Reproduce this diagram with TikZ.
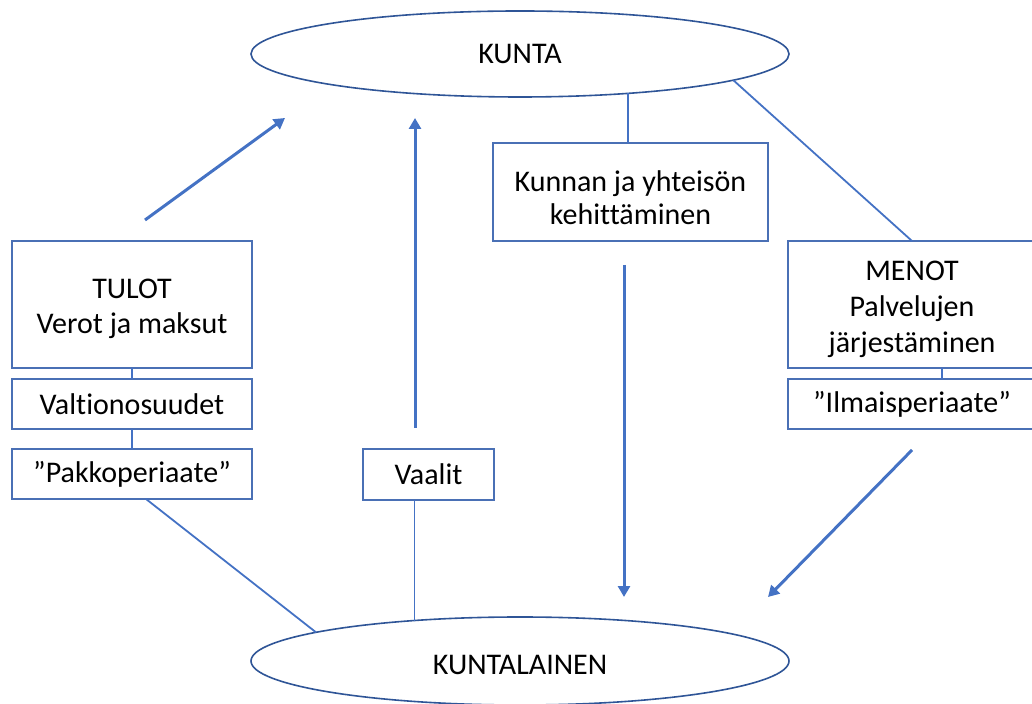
\documentclass[tikz,border=0pt]{standalone}
\usepackage{fontspec}
\setmainfont{Carlito}[Ligatures={NoCommon}]
\usetikzlibrary{shapes.geometric,arrows.meta,calc}
\definecolor{lineblue}{HTML}{4472C4}
\definecolor{boxblue}{HTML}{4A70B5}
\definecolor{ellblue}{HTML}{2F5597}
\newcommand{\lowerby}[2]{\raisebox{-#1}[\height][\depth]{#2}}
\begin{document}
\begin{tikzpicture}[x=0.5pt,y=-0.5pt,
  every node/.style={font=\fontsize{15pt}{17.5pt}\selectfont, text=black, outer sep=0pt},
  box/.style={draw=boxblue, line width=0.75pt, inner sep=0pt, align=center, fill=white},
  oval/.style={ellipse, draw=ellblue, line width=0.8pt, inner sep=0pt, fill=white},
  thin/.style={draw=lineblue, line width=0.9pt},
  bigarrow/.style={draw=lineblue, line width=1.5pt, -{Triangle[length=5.5pt,width=6pt]}}
]
\useasboundingbox (0,0) rectangle (1032,704);
\clip (0,0) rectangle (1032,704);

% ellipses
\node[oval, minimum width=269pt, minimum height=43pt] (kunta) at (520,54) {KUNTA};
\node[oval, minimum width=269pt, minimum height=44pt] (kuntalainen) at (520,661) {\lowerby{2pt}{KUNTALAINEN}};

% boxes
\node[box, minimum width=120pt, minimum height=63.5pt] (tulot) at (132,304.5) {\lowerby{2.5pt}{\begin{tabular}{@{}c@{}}TULOT\\Verot ja maksut\end{tabular}}};
\node[box, minimum width=120pt, minimum height=25pt] (valt) at (132,404) {Valtionosuudet};
\node[box, minimum width=120pt, minimum height=25pt] (pakko) at (132,474) {”Pakkoperiaate”};
\node[box, minimum width=65.5pt, minimum height=25.5pt] (vaalit) at (428.5,474.5) {Vaalit};
\node[box, minimum width=137.5pt, minimum height=49pt] (kunnan) at (630.5,192) {\lowerby{4.5pt}{\begin{tabular}{@{}c@{}}Kunnan ja yhteisön\\[-1pt]kehittäminen\end{tabular}}};
\node[box, minimum width=124pt, minimum height=63.5pt] (menot) at (912,304.5) {\lowerby{2.5pt}{\begin{tabular}{@{}c@{}}MENOT\\[0.5pt]Palvelujen\\[0.5pt]järjestäminen\end{tabular}}};
\node[box, minimum width=124pt, minimum height=25pt] (ilmais) at (912,404) {”Ilmaisperiaate”};

% thin connectors
\draw[thin] (tulot.south) -- (valt.north);
\draw[thin] (valt.south) -- (pakko.north);
\draw[thin] ($(pakko.south)+(14,0)$) -- (kuntalainen.172.3);
\draw[thin] (kuntalainen.159.1) -- (kuntalainen.159.1 |- vaalit.south);
\draw[thin] (kunta.-20.8) -- (kunta.-20.8 |- kunnan.north);
\draw[thin] (kunta.-7.5) -- (menot.north);
\draw[thin] ($(menot.south)+(30,0)$) -- ($(ilmais.north)+(30,0)$);

% thick arrows
\coordinate (a1s) at (145,220);
\coordinate (a1e) at (285,118);
\coordinate (a2s) at (415,428);
\coordinate (a2e) at (415,118);
\coordinate (a3s) at (624,265);
\coordinate (a3e) at (624,597);
\coordinate (a4s) at (912,450);
\coordinate (a4e) at (768,597);
\draw[bigarrow] (a1s) -- (a1e);
\draw[bigarrow] (a2s) -- (a2e);
\draw[bigarrow] (a3s) -- (a3e);
\draw[bigarrow] (a4s) -- (a4e);
\end{tikzpicture}
\end{document}
